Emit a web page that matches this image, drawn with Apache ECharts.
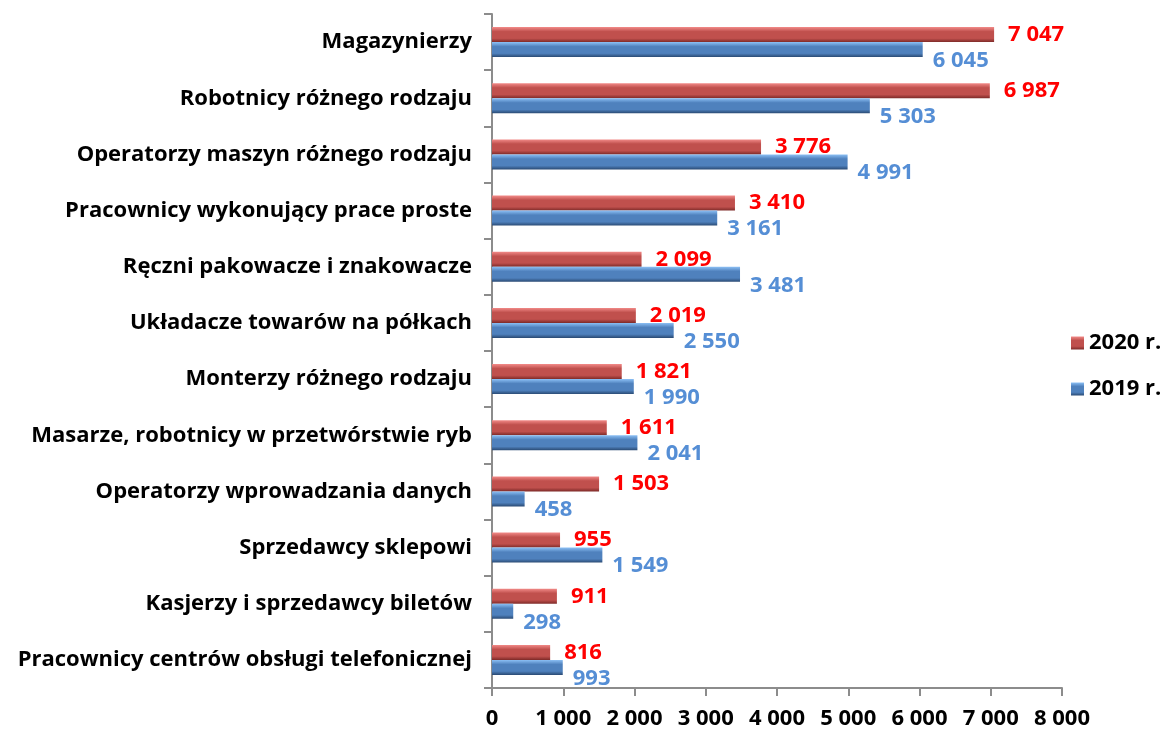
<!DOCTYPE html>
<html>
<head>
<meta charset="utf-8">
<script src="https://cdn.jsdelivr.net/npm/echarts@6/dist/echarts.min.js"></script>
<style>
  html, body { margin: 0; padding: 0; background: #fff; }
  #chart { width: 1167px; height: 731px; }
</style>
</head>
<body>
<div id="chart"></div>
<script>
const categories = [
  "Magazynierzy",
  "Robotnicy różnego rodzaju",
  "Operatorzy maszyn różnego rodzaju",
  "Pracownicy wykonujący prace proste",
  "Ręczni pakowacze i znakowacze",
  "Układacze towarów na półkach",
  "Monterzy różnego rodzaju",
  "Masarze, robotnicy w przetwórstwie ryb",
  "Operatorzy wprowadzania danych",
  "Sprzedawcy sklepowi",
  "Kasjerzy i sprzedawcy biletów",
  "Pracownicy centrów obsługi telefonicznej"
];
const values2020 = [7047, 6987, 3776, 3410, 2099, 2019, 1821, 1611, 1503, 955, 911, 816];
const values2019 = [6045, 5303, 4991, 3161, 3481, 2550, 1990, 2041, 458, 1549, 298, 993];
const seriesNames = ["2020 r.", "2019 r."];

const FONT = "Open Sans";
const FS = 22;

function fmt(v) {
  return String(v).replace(/\B(?=(\d{3})+(?!\d))/g, " ");
}

function grad(light, mid, dark) {
  return new echarts.graphic.LinearGradient(0, 0, 0, 1, [
    { offset: 0, color: light },
    { offset: 0.3, color: mid },
    { offset: 0.75, color: mid },
    { offset: 1, color: dark },
  ]);
}

const myChart = echarts.init(document.getElementById("chart"));

const option = {
  animation: false,
  textStyle: { fontFamily: FONT },
  grid: { left: 492, right: 105, top: 14, bottom: 43 },
  legend: {
    orient: "vertical",
    left: 1066,
    top: 327,
    itemGap: 24,
    itemWidth: 13,
    itemHeight: 13,
    icon: "rect",
    data: seriesNames,
    textStyle: { fontFamily: FONT, fontSize: FS, fontWeight: "bold", color: "#000" },
  },
  xAxis: {
    type: "value",
    min: 0,
    max: 8000,
    interval: 1000,
    splitLine: { show: false },
    axisLine: { show: true, lineStyle: { color: "#8c8c8c", width: 2 } },
    axisTick: { show: true, length: 8, lineStyle: { color: "#8c8c8c", width: 2 } },
    axisLabel: {
      margin: 20,
      fontFamily: FONT,
      fontSize: FS,
      fontWeight: "bold",
      color: "#000",
      formatter: (v) => fmt(v),
    },
  },
  yAxis: {
    type: "category",
    inverse: true,
    data: categories,
    axisLine: { show: true, lineStyle: { color: "#8c8c8c", width: 2 } },
    axisTick: { show: true, length: 8, lineStyle: { color: "#8c8c8c", width: 2 } },
    axisLabel: {
      margin: 20,
      fontFamily: FONT,
      fontSize: FS,
      fontWeight: "bold",
      color: "#000",
    },
  },
  series: [
    {
      name: seriesNames[0],
      type: "bar",
      data: values2020,
      barWidth: 15,
      barGap: "0%",
      itemStyle: { color: grad("#f28a88", "#c0504d", "#7d2a28") },
      label: {
        show: true,
        position: "right",
        distance: 14,
        color: "#ff0000",
        fontFamily: FONT,
        fontSize: FS,
        fontWeight: "bold",
        formatter: (p) => fmt(p.value),
      },
    },
    {
      name: seriesNames[1],
      type: "bar",
      data: values2019,
      barWidth: 15,
      barGap: "0%",
      itemStyle: { color: grad("#8cc0f5", "#4f81bd", "#2a4a73") },
      label: {
        show: true,
        position: "right",
        distance: 10,
        offset: [0, 11],
        color: "#558ed5",
        fontFamily: FONT,
        fontSize: FS,
        fontWeight: "bold",
        formatter: (p) => fmt(p.value),
      },
    },
  ],
};

myChart.setOption(option);
</script>
</body>
</html>
